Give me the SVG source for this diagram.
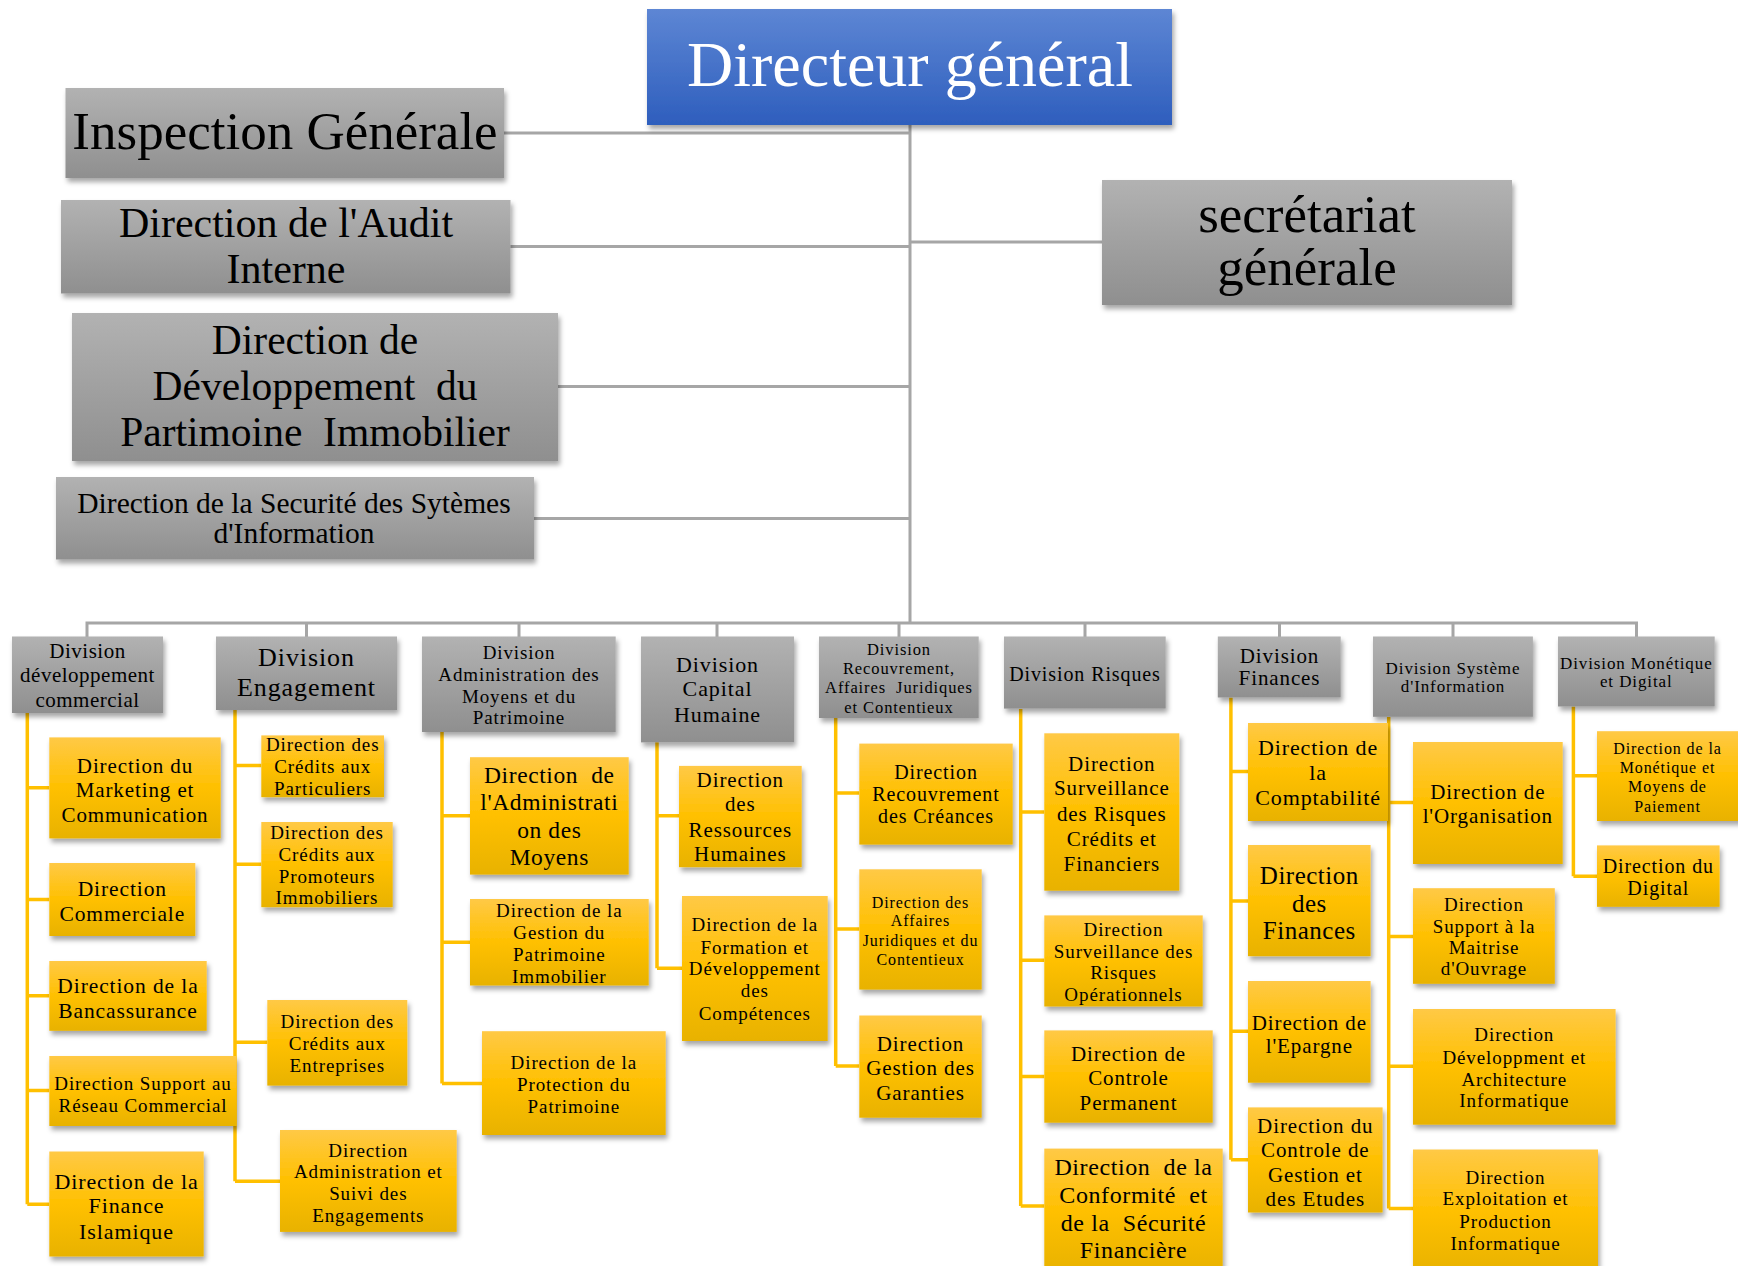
<svg xmlns="http://www.w3.org/2000/svg" width="1738" height="1266" viewBox="0 0 1738 1266">
<defs>
  <linearGradient id="gBlue" x1="0" y1="0" x2="0" y2="1">
    <stop offset="0" stop-color="#5d86d4"/>
    <stop offset="1" stop-color="#2e5ebd"/>
  </linearGradient>
  <linearGradient id="gGray" x1="0" y1="0" x2="0" y2="1">
    <stop offset="0" stop-color="#b2b2b2"/>
    <stop offset="1" stop-color="#8f8f8f"/>
  </linearGradient>
  <linearGradient id="gYel" x1="0" y1="0" x2="0" y2="1">
    <stop offset="0" stop-color="#ffc946"/>
    <stop offset="0.5" stop-color="#ffc000"/>
    <stop offset="1" stop-color="#e8b200"/>
  </linearGradient>
  <filter id="shadow" x="-10%" y="-10%" width="125%" height="130%">
    <feDropShadow dx="2" dy="4" stdDeviation="2.5" flood-color="#000" flood-opacity="0.35"/>
  </filter>
  <style>
    .blue { fill: url(#gBlue); filter: url(#shadow); }
    .gray { fill: url(#gGray); filter: url(#shadow); }
    .yel { fill: url(#gYel); filter: url(#shadow); }
    text { font-family: "Liberation Serif", "Times New Roman", serif; fill: #000; text-anchor: middle; }
    .sp { letter-spacing: 0.9px; }
    .gline { stroke: #a6a6a6; stroke-width: 3; fill: none; }
    .yline { stroke: #ffc000; stroke-width: 3.5; fill: none; }
  </style>
</defs>
<rect width="1738" height="1266" fill="#fff"/>

<!-- connectors -->
<g id="connectors">
  <!-- top-level trunk and staff units -->
  <path class="gline" d="M910 125V623M504 133H910M510 246.5H910M558 386.5H910M534 518.5H910M910 242H1102"/>
  <!-- division bus and drops -->
  <path class="gline" d="M87 623H1636.5M87 621.5V637M306.5 623V637M519 623V637M717 623V637M899 623V637M1085 623V637M1279.5 623V637M1453 623V637M1636.5 621.5V637"/>
  <!-- directions under each division -->
  <path class="yline" d="M27.3 713V1204.3M27.3 787.7H49.3M27.3 899.4H49.3M27.3 995.8H49.3M27.3 1090.5H49.3M27.3 1204.3H49.3"/>
  <path class="yline" d="M235 710V1181.2M235 765.4H261.3M235 864.3H261.3M235 1042.3H267.3M235 1181.2H280"/>
  <path class="yline" d="M442 732V1083.5M442 815.7H470M442 942.2H470M442 1083.5H482"/>
  <path class="yline" d="M657 742V968.2M657 815.7H679M657 968.2H682"/>
  <path class="yline" d="M835.7 718V1066M835.7 793H859.3M835.7 929H859.3M835.7 1066H859.3"/>
  <path class="yline" d="M1020.7 709V1206M1020.7 812H1044.3M1020.7 960.3H1044.3M1020.7 1076.5H1044.3M1020.7 1206H1044.3"/>
  <path class="yline" d="M1230.9 697.5V1159.8M1230.9 771.6H1248M1230.9 901H1248M1230.9 1031.2H1248M1230.9 1159.8H1248"/>
  <path class="yline" d="M1388.7 717V1208.4M1388.7 802.5H1413M1388.7 936.4H1413M1388.7 1066.2H1413M1388.7 1208.4H1413"/>
  <path class="yline" d="M1573.4 706.5V876.3M1573.4 775.7H1597M1573.4 876.3H1597"/>
</g>

<!-- top management -->
<g id="directeur-general">
  <rect class="blue" x="647" y="9" width="525" height="116"/>
  <text x="910" y="86" font-size="64" style="fill:#fff">Directeur général</text>
</g>
<g id="inspection-generale">
  <rect class="gray" x="65.5" y="88" width="438.5" height="90"/>
  <text x="285" y="149" font-size="53">Inspection Générale</text>
</g>
<g id="audit-interne">
  <rect class="gray" x="61" y="200" width="449.5" height="93.5"/>
  <text font-size="42"><tspan x="286" y="237">Direction de l'Audit</tspan><tspan x="286" y="283">Interne</tspan></text>
</g>
<g id="patrimoine-immobilier">
  <rect class="gray" x="72" y="313" width="486" height="148"/>
  <text font-size="41.5" xml:space="preserve"><tspan x="315" y="354">Direction de</tspan><tspan x="315" y="400">Développement  du</tspan><tspan x="315" y="446">Partimoine  Immobilier</tspan></text>
</g>
<g id="securite-si">
  <rect class="gray" x="56" y="477" width="478" height="82.5"/>
  <text font-size="29.5"><tspan x="294" y="513">Direction de la Securité des Sytèmes</tspan><tspan x="294" y="543">d'Information</tspan></text>
</g>
<g id="secretariat-generale">
  <rect class="gray" x="1102" y="180" width="410" height="125"/>
  <text font-size="53"><tspan x="1307" y="231.5">secrétariat</tspan><tspan x="1307" y="285">générale</tspan></text>
</g>

<!-- divisions -->
<g id="div-developpement-commercial">
  <rect class="gray" x="12" y="636.5" width="151" height="76.5"/>
  <text class="sp" font-size="21" style="letter-spacing:0.5px"><tspan x="87.5" y="658">Division</tspan><tspan x="87.5" y="682">développement</tspan><tspan x="87.5" y="707">commercial</tspan></text>
</g>
<g id="div-engagement">
  <rect class="gray" x="216" y="636.5" width="181" height="73.5"/>
  <text class="sp" font-size="26"><tspan x="306.5" y="666">Division</tspan><tspan x="306.5" y="696">Engagement</tspan></text>
</g>
<g id="div-administration">
  <rect class="gray" x="422" y="636.5" width="193.7" height="95.5"/>
  <text class="sp" font-size="19"><tspan x="519" y="659">Division</tspan><tspan x="519" y="681">Administration des</tspan><tspan x="519" y="702.5">Moyens et du</tspan><tspan x="519" y="724">Patrimoine</tspan></text>
</g>
<g id="div-capital-humaine">
  <rect class="gray" x="641" y="636.5" width="153" height="105.9"/>
  <text class="sp" font-size="22"><tspan x="717.5" y="672.3">Division</tspan><tspan x="717.5" y="696.2">Capital</tspan><tspan x="717.5" y="721.8">Humaine</tspan></text>
</g>
<g id="div-recouvrement">
  <rect class="gray" x="819" y="636.5" width="159.7" height="81.5"/>
  <text class="sp" font-size="16.5" xml:space="preserve"><tspan x="899" y="655">Division</tspan><tspan x="899" y="673.6">Recouvrement,</tspan><tspan x="899" y="693.3">Affaires  Juridiques</tspan><tspan x="899" y="712.7">et Contentieux</tspan></text>
</g>
<g id="div-risques">
  <rect class="gray" x="1004" y="636.5" width="161.7" height="72.1"/>
  <text class="sp" font-size="20" x="1085" y="681">Division Risques</text>
</g>
<g id="div-finances">
  <rect class="gray" x="1217.8" y="636.5" width="122.9" height="61"/>
  <text class="sp" font-size="21"><tspan x="1279.5" y="663.3">Division</tspan><tspan x="1279.5" y="685.1">Finances</tspan></text>
</g>
<g id="div-systeme-information">
  <rect class="gray" x="1373" y="636.5" width="159.9" height="80.3"/>
  <text class="sp" font-size="17"><tspan x="1453" y="674.4">Division Système</tspan><tspan x="1453" y="692.1">d'Information</tspan></text>
</g>
<g id="div-monetique-digital">
  <rect class="gray" x="1558" y="636.5" width="156.7" height="70"/>
  <text class="sp" font-size="17"><tspan x="1636.3" y="668.6">Division Monétique</tspan><tspan x="1636.3" y="686.7">et Digital</tspan></text>
</g>

<!-- directions: développement commercial -->
<g id="dir-marketing">
  <rect class="yel" x="49.3" y="737.4" width="171.4" height="101"/>
  <text class="sp" font-size="21"><tspan x="135" y="773.3">Direction du</tspan><tspan x="135" y="797.2">Marketing et</tspan><tspan x="135" y="821.9">Communication</tspan></text>
</g>
<g id="dir-commerciale">
  <rect class="yel" x="49.3" y="863" width="146" height="73"/>
  <text class="sp" font-size="21.5"><tspan x="122.3" y="896">Direction</tspan><tspan x="122.3" y="920.8">Commerciale</tspan></text>
</g>
<g id="dir-bancassurance">
  <rect class="yel" x="49.3" y="961" width="157.4" height="69.8"/>
  <text class="sp" font-size="21.5"><tspan x="128" y="992.9">Direction de la</tspan><tspan x="128" y="1017.6">Bancassurance</tspan></text>
</g>
<g id="dir-support-reseau">
  <rect class="yel" x="49.3" y="1056" width="187.4" height="70"/>
  <text class="sp" font-size="19"><tspan x="143" y="1089.7">Direction Support au</tspan><tspan x="143" y="1111.5">Réseau Commercial</tspan></text>
</g>
<g id="dir-finance-islamique">
  <rect class="yel" x="49.3" y="1151.5" width="154.4" height="105"/>
  <text class="sp" font-size="22"><tspan x="126.5" y="1188.6">Direction de la</tspan><tspan x="126.5" y="1213.3">Finance</tspan><tspan x="126.5" y="1238.9">Islamique</tspan></text>
</g>

<!-- directions: engagement -->
<g id="dir-credits-particuliers">
  <rect class="yel" x="261.3" y="735.4" width="122.7" height="61.8"/>
  <text class="sp" font-size="19"><tspan x="322.7" y="751">Direction des</tspan><tspan x="322.7" y="773.3">Crédits aux</tspan><tspan x="322.7" y="795.1">Particuliers</tspan></text>
</g>
<g id="dir-credits-promoteurs">
  <rect class="yel" x="261.3" y="822" width="131.4" height="85.2"/>
  <text class="sp" font-size="19"><tspan x="327" y="839.2">Direction des</tspan><tspan x="327" y="861">Crédits aux</tspan><tspan x="327" y="882.9">Promoteurs</tspan><tspan x="327" y="904.3">Immobiliers</tspan></text>
</g>
<g id="dir-credits-entreprises">
  <rect class="yel" x="267.3" y="1000" width="140" height="85.6"/>
  <text class="sp" font-size="19"><tspan x="337.3" y="1027.9">Direction des</tspan><tspan x="337.3" y="1049.8">Crédits aux</tspan><tspan x="337.3" y="1072">Entreprises</tspan></text>
</g>
<g id="dir-suivi-engagements">
  <rect class="yel" x="280" y="1130" width="176.7" height="101.9"/>
  <text class="sp" font-size="19"><tspan x="368.3" y="1156.5">Direction</tspan><tspan x="368.3" y="1178.3">Administration et</tspan><tspan x="368.3" y="1200.1">Suivi des</tspan><tspan x="368.3" y="1221.6">Engagements</tspan></text>
</g>

<!-- directions: administration des moyens -->
<g id="dir-administration-moyens">
  <rect class="yel" x="470" y="757.2" width="158.7" height="117.4"/>
  <text class="sp" font-size="23.5" style="letter-spacing:0.6px" xml:space="preserve"><tspan x="549.3" y="782.8">Direction  de</tspan><tspan x="549.3" y="810.4">l'Administrati</tspan><tspan x="549.3" y="838.4">on des</tspan><tspan x="549.3" y="865.2">Moyens</tspan></text>
</g>
<g id="dir-gestion-patrimoine">
  <rect class="yel" x="470" y="899" width="178.7" height="86.5"/>
  <text class="sp" font-size="19"><tspan x="559.3" y="916.7">Direction de la</tspan><tspan x="559.3" y="938.5">Gestion du</tspan><tspan x="559.3" y="960.7">Patrimoine</tspan><tspan x="559.3" y="982.6">Immobilier</tspan></text>
</g>
<g id="dir-protection-patrimoine">
  <rect class="yel" x="482" y="1031.2" width="183.7" height="103.8"/>
  <text class="sp" font-size="19"><tspan x="573.8" y="1069">Direction de la</tspan><tspan x="573.8" y="1091">Protection du</tspan><tspan x="573.8" y="1113.2">Patrimoine</tspan></text>
</g>

<!-- directions: capital humain -->
<g id="dir-ressources-humaines">
  <rect class="yel" x="679" y="765.9" width="122.7" height="101.3"/>
  <text class="sp" font-size="21"><tspan x="740.3" y="786.9">Direction</tspan><tspan x="740.3" y="810.8">des</tspan><tspan x="740.3" y="837.1">Ressources</tspan><tspan x="740.3" y="861">Humaines</tspan></text>
</g>
<g id="dir-formation">
  <rect class="yel" x="682" y="896" width="145.7" height="145"/>
  <text class="sp" font-size="19"><tspan x="754.8" y="931">Direction de la</tspan><tspan x="754.8" y="953.7">Formation et</tspan><tspan x="754.8" y="975.2">Développement</tspan><tspan x="754.8" y="997">des</tspan><tspan x="754.8" y="1019.7">Compétences</tspan></text>
</g>

<!-- directions: recouvrement -->
<g id="dir-recouvrement-creances">
  <rect class="yel" x="859.3" y="743.6" width="153.4" height="101"/>
  <text class="sp" font-size="20"><tspan x="936" y="778.6">Direction</tspan><tspan x="936" y="801.3">Recouvrement</tspan><tspan x="936" y="822.7">des Créances</tspan></text>
</g>
<g id="dir-affaires-juridiques">
  <rect class="yel" x="859.3" y="869.3" width="122.4" height="120.3"/>
  <text class="sp" font-size="16"><tspan x="920.5" y="908.4">Direction des</tspan><tspan x="920.5" y="925.7">Affaires</tspan><tspan x="920.5" y="946.3">Juridiques et du</tspan><tspan x="920.5" y="965.3">Contentieux</tspan></text>
</g>
<g id="dir-gestion-garanties">
  <rect class="yel" x="859.3" y="1015.5" width="122.4" height="102.2"/>
  <text class="sp" font-size="21"><tspan x="920.5" y="1050.6">Direction</tspan><tspan x="920.5" y="1074.5">Gestion des</tspan><tspan x="920.5" y="1100">Garanties</tspan></text>
</g>

<!-- directions: risques -->
<g id="dir-risques-credits">
  <rect class="yel" x="1044.3" y="733.3" width="135" height="157.4"/>
  <text class="sp" font-size="21"><tspan x="1111.8" y="771.2">Direction</tspan><tspan x="1111.8" y="795.1">Surveillance</tspan><tspan x="1111.8" y="821">des Risques</tspan><tspan x="1111.8" y="845.8">Crédits et</tspan><tspan x="1111.8" y="870.5">Financiers</tspan></text>
</g>
<g id="dir-risques-operationnels">
  <rect class="yel" x="1044.3" y="915.4" width="158.4" height="91.1"/>
  <text class="sp" font-size="19"><tspan x="1123.5" y="936.4">Direction</tspan><tspan x="1123.5" y="957.9">Surveillance des</tspan><tspan x="1123.5" y="979.3">Risques</tspan><tspan x="1123.5" y="1001.1">Opérationnels</tspan></text>
</g>
<g id="dir-controle-permanent">
  <rect class="yel" x="1044.3" y="1030.4" width="168.4" height="92.3"/>
  <text class="sp" font-size="21"><tspan x="1128.5" y="1060.9">Direction de</tspan><tspan x="1128.5" y="1084.8">Controle</tspan><tspan x="1128.5" y="1110.3">Permanent</tspan></text>
</g>
<g id="dir-conformite">
  <rect class="yel" x="1044.3" y="1148.6" width="178.4" height="125"/>
  <text class="sp" font-size="24" style="letter-spacing:0.6px" xml:space="preserve"><tspan x="1133.5" y="1175.4">Direction  de la</tspan><tspan x="1133.5" y="1203">Conformité  et</tspan><tspan x="1133.5" y="1230.6">de la  Sécurité</tspan><tspan x="1133.5" y="1257.8">Financière</tspan></text>
</g>

<!-- directions: finances -->
<g id="dir-comptabilite">
  <rect class="yel" x="1248" y="723" width="140" height="98"/>
  <text class="sp" font-size="22"><tspan x="1318" y="755.1">Direction de</tspan><tspan x="1318" y="779.9">la</tspan><tspan x="1318" y="805.4">Comptabilité</tspan></text>
</g>
<g id="dir-finances">
  <rect class="yel" x="1248" y="845" width="122.6" height="111.2"/>
  <text class="sp" font-size="25" style="letter-spacing:0.5px"><tspan x="1309.3" y="883.7">Direction</tspan><tspan x="1309.3" y="911.7">des</tspan><tspan x="1309.3" y="939.3">Finances</tspan></text>
</g>
<g id="dir-epargne">
  <rect class="yel" x="1248" y="981" width="122.6" height="101.7"/>
  <text class="sp" font-size="21"><tspan x="1309.3" y="1030">Direction de</tspan><tspan x="1309.3" y="1052.6">l'Epargne</tspan></text>
</g>
<g id="dir-controle-gestion">
  <rect class="yel" x="1248" y="1107.4" width="134.6" height="105.1"/>
  <text class="sp" font-size="21"><tspan x="1315.3" y="1133">Direction du</tspan><tspan x="1315.3" y="1156.5">Controle de</tspan><tspan x="1315.3" y="1182.4">Gestion et</tspan><tspan x="1315.3" y="1205.9">des Etudes</tspan></text>
</g>

<!-- directions: système d'information -->
<g id="dir-organisation">
  <rect class="yel" x="1413" y="742" width="149.7" height="122"/>
  <text class="sp" font-size="21"><tspan x="1487.8" y="799.2">Direction de</tspan><tspan x="1487.8" y="822.7">l'Organisation</tspan></text>
</g>
<g id="dir-support-moa">
  <rect class="yel" x="1413" y="888.2" width="141.8" height="95.6"/>
  <text class="sp" font-size="19"><tspan x="1484" y="910.5">Direction</tspan><tspan x="1484" y="933.1">Support à la</tspan><tspan x="1484" y="953.7">Maitrise</tspan><tspan x="1484" y="975.2">d'Ouvrage</tspan></text>
</g>
<g id="dir-developpement-architecture">
  <rect class="yel" x="1413" y="1009" width="202.6" height="115.7"/>
  <text class="sp" font-size="19"><tspan x="1514.3" y="1041.1">Direction</tspan><tspan x="1514.3" y="1063.8">Développment et</tspan><tspan x="1514.3" y="1085.6">Architecture</tspan><tspan x="1514.3" y="1107.4">Informatique</tspan></text>
</g>
<g id="dir-exploitation-production">
  <rect class="yel" x="1413" y="1149.5" width="185" height="125"/>
  <text class="sp" font-size="19"><tspan x="1505.5" y="1183.7">Direction</tspan><tspan x="1505.5" y="1205">Exploitation et</tspan><tspan x="1505.5" y="1227.7">Production</tspan><tspan x="1505.5" y="1249.6">Informatique</tspan></text>
</g>

<!-- directions: monétique et digital -->
<g id="dir-monetique">
  <rect class="yel" x="1597" y="731.2" width="145" height="89.8"/>
  <text class="sp" font-size="16"><tspan x="1667.5" y="754">Direction de la</tspan><tspan x="1667.5" y="772.5">Monétique et</tspan><tspan x="1667.5" y="792.2">Moyens de</tspan><tspan x="1667.5" y="811.6">Paiement</tspan></text>
</g>
<g id="dir-digital">
  <rect class="yel" x="1597" y="845.4" width="122.6" height="61.4"/>
  <text class="sp" font-size="20"><tspan x="1658.3" y="873.4">Direction du</tspan><tspan x="1658.3" y="895.2">Digital</tspan></text>
</g>
</svg>
